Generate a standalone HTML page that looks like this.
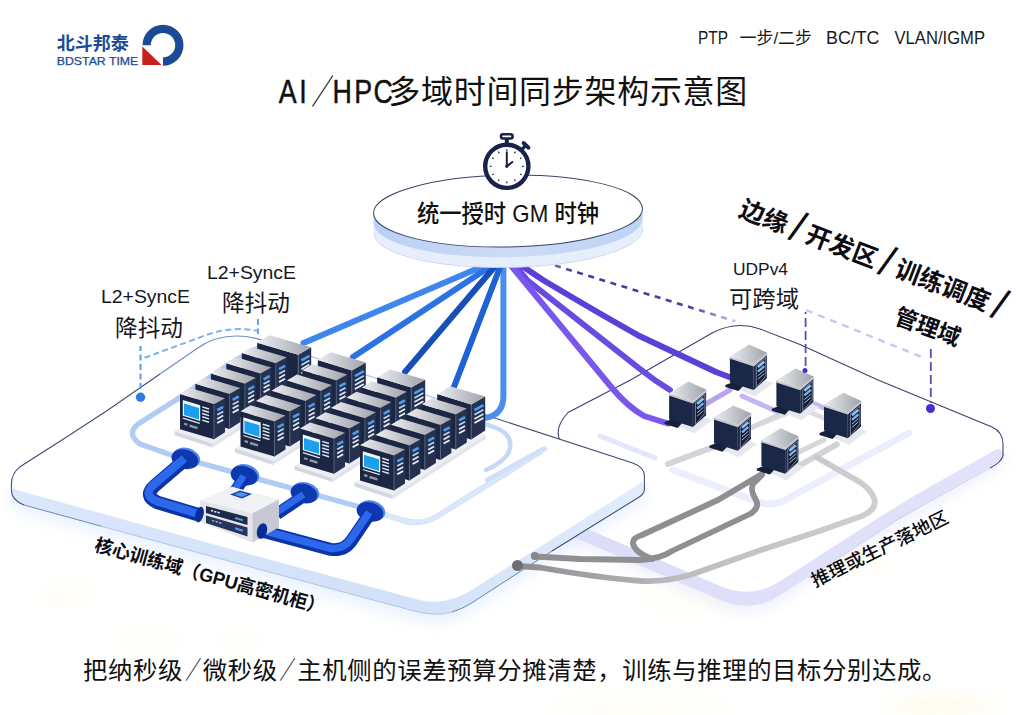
<!DOCTYPE html>
<html lang="zh"><head><meta charset="utf-8"><title>AI/HPC多域时间同步架构示意图</title>
<style>
html,body{margin:0;padding:0;background:#fff;}
body{width:1024px;height:715px;overflow:hidden;font-family:"Liberation Sans","Noto Sans CJK SC",sans-serif;}
svg{display:block}
text{font-family:"Liberation Sans","Noto Sans CJK SC",sans-serif;}
</style></head><body>
<svg width="1024" height="715" viewBox="0 0 1024 715">
<defs>
<linearGradient id="topg" x1="0" y1="0" x2="1" y2="0"><stop offset="0" stop-color="#eceef2"/><stop offset="1" stop-color="#9fa2aa"/></linearGradient>
<linearGradient id="plL" x1="0" y1="0" x2="1" y2="1"><stop offset="0" stop-color="#ffffff"/><stop offset="1" stop-color="#ffffff"/></linearGradient>
<linearGradient id="sideL" x1="0" y1="0" x2="1" y2="0"><stop offset="0" stop-color="#dbe7fb"/><stop offset="0.6" stop-color="#d2e1f8"/><stop offset="1" stop-color="#e2ecfb"/></linearGradient>
<linearGradient id="sideR" x1="0" y1="0" x2="1" y2="0"><stop offset="0" stop-color="#dcdcf8"/><stop offset="1" stop-color="#e2e3fa"/></linearGradient>
<linearGradient id="discSide" x1="0" y1="0" x2="1" y2="0"><stop offset="0" stop-color="#b9cff3"/><stop offset="0.5" stop-color="#cddcf7"/><stop offset="1" stop-color="#bdd2f4"/></linearGradient>
<linearGradient id="pipe" x1="0" y1="0" x2="0" y2="1"><stop offset="0" stop-color="#2f6bf0"/><stop offset="1" stop-color="#1437b8"/></linearGradient>
<filter id="blur8" x="-20%" y="-20%" width="140%" height="140%"><feGaussianBlur stdDeviation="8"/></filter>
<filter id="blur14" x="-30%" y="-30%" width="160%" height="160%"><feGaussianBlur stdDeviation="14"/></filter>
<filter id="blur3" x="-20%" y="-20%" width="140%" height="140%"><feGaussianBlur stdDeviation="2.5"/></filter>
</defs>
<rect width="1024" height="715" fill="#ffffff"/>

<g filter="url(#blur8)" opacity="0.42">
<ellipse cx="68" cy="594" rx="26" ry="12" fill="#fefae6"/>
<ellipse cx="150" cy="640" rx="34" ry="10" fill="#fefbea"/>
<ellipse cx="240" cy="643" rx="24" ry="8" fill="#fefbea"/>
<ellipse cx="640" cy="705" rx="90" ry="10" fill="#fefae4"/>
<ellipse cx="940" cy="706" rx="60" ry="10" fill="#fdf6d4"/>
<ellipse cx="690" cy="600" rx="50" ry="12" fill="#fefbe8"/>
<ellipse cx="840" cy="560" rx="50" ry="14" fill="#fefbe8"/>
</g>
<path d="M544.5,450.9 Q546.0,431.0 563.3,420.9 L714.8,332.1 Q739.0,318.0 764.5,329.5 L998.2,435.2 Q1011.0,441.0 998.8,447.9 L934.8,484.1 Q900.0,503.8 866.4,525.5 L780.5,581.1 Q752.0,599.6 720.8,586.2 L540.9,509.1 Q540.0,508.7 540.1,507.7 Z" fill="#dcdffa" filter="url(#blur8)" opacity="0.55" transform="translate(0,18)"/>
<path d="M544.5,464.9 Q546.0,445.0 563.3,434.9 L714.8,346.1 Q739.0,332.0 764.5,343.5 L998.2,449.2 Q1011.0,455.0 998.8,461.9 L934.8,498.1 Q900.0,517.8 866.4,539.5 L780.5,595.1 Q752.0,613.6 720.8,600.2 L540.9,523.1 Q540.0,522.7 540.1,521.7 Z" fill="url(#sideR)"/>
<path d="M544.5,450.9 Q546.0,431.0 563.3,420.9 L714.8,332.1 Q739.0,318.0 764.5,329.5 L998.2,435.2 Q1011.0,441.0 998.8,447.9 L934.8,484.1 Q900.0,503.8 866.4,525.5 L780.5,581.1 Q752.0,599.6 720.8,586.2 L540.9,509.1 Q540.0,508.7 540.1,507.7 Z" fill="#ffffff"/>
<path d="M562,444 Q552,430 568,412.5 L630.5,380 L712,333 Q736,320.5 760,329 L800,344.5 L878,380 L992,427 Q1003,432 1003,444 L1003,455 Q1002,462 990,468" fill="none" stroke="#36426e" stroke-width="1.05"/>
<path d="M990,468 L900,518 L808,578" fill="none" stroke="#b9b6ee" stroke-width="1" opacity="0.6"/>
<g fill="none" stroke-linecap="round" stroke-linejoin="round">
<path d="M600,436 L655,458" stroke="#e2e8fa" stroke-width="5"/>
<path d="M673,470 L755,501 Q771,507.5 786,499.5 L909,433" stroke="#ebeefc" stroke-width="7"/>
</g>
<path d="M11.4,484.0 Q11.4,474.0 20,466.7 L62,440.0 L108,410.0 L197,348.4 Q225,329.0 262,340.0 L494.6,418.0 L632,462.7 Q644.4,467.0 644.4,476.0 Q644.4,481.0 636,486.0 L470,591.0 Q442,608.0 412,598.0 L260,557.0 L101.6,513.6 L24,492.0 Q11.4,489.0 11.4,484.0 Z" fill="#d5e4fb" filter="url(#blur8)" opacity="0.55" transform="translate(0,20)"/>
<path d="M11.4,496.5 Q11.4,486.5 20,479.2 L62,452.5 L108,422.5 L197,360.9 Q225,341.5 262,352.5 L494.6,430.5 L632,475.7 Q644.4,480.0 644.4,489.0 Q644.4,494.0 636,499.0 L470,603.5 Q442,620.5 412,610.5 L260,569.5 L101.6,526.1 L24,504.5 Q11.4,501.5 11.4,496.5 Z" fill="url(#sideL)"/>
<path d="M11.4,484.0 Q11.4,474.0 20,466.7 L62,440.0 L108,410.0 L197,348.4 Q225,329.0 262,340.0 L494.6,418.0 L632,462.7 Q644.4,467.0 644.4,476.0 Q644.4,481.0 636,486.0 L470,591.0 Q442,608.0 412,598.0 L260,557.0 L101.6,513.6 L24,492.0 Q11.4,489.0 11.4,484.0 Z" fill="url(#plL)"/>
<path d="M262,340 L494.6,418" fill="none" stroke="#9fb6df" stroke-width="1"/>
<path d="M160,374 L197,348.4 Q225,329 262,340" fill="none" stroke="#6f8fc8" stroke-width="1.2"/>
<path d="M24,505 Q11.4,500 11.4,490 L11.4,484 Q11.4,474 20,466.7 L62,440 L108,410 L160,374 M470,409.4 L494.6,418 L632,462.7 Q644.4,467 644.4,476 L644.4,489 Q644.4,495 636,499 L552,551" fill="none" stroke="#3b4b78" stroke-width="1.05"/>
<path d="M24,505 L101.6,526.3" fill="none" stroke="#6f86b8" stroke-width="1"/>
<path d="M101.6,526.3 L260,569.5 L412,610.5 Q436,617 452,612" fill="none" stroke="#a9c0e8" stroke-width="1" opacity="0.9"/>
<path d="M452,612 Q462,609 470,604 L552,551" fill="none" stroke="#6f82ad" stroke-width="1"/>
<g fill="none" stroke-linecap="round" stroke-linejoin="round">
<path d="M262,346 L236,360 L176,400 L138,424 Q126,434 140,444 L171,455 L360,507 L405,521 Q422,525 436,517 L540,452" stroke="#b0cbf4" stroke-width="5.4"/>
<path d="M360,507 L405,521 Q422,525 436,517 L545,449" stroke="#dbe7fa" stroke-width="5"/>
<path d="M470,418 L496,428 Q512,434 510,448 Q508,460 486,470" stroke="#c3d8f6" stroke-width="4.5"/>
<path d="M543,449 L487,480" stroke="#cfe0f8" stroke-width="4.5"/>
</g>
<linearGradient id="g1" gradientUnits="userSpaceOnUse" x1="517" y1="0" x2="880" y2="0"><stop offset="0" stop-color="#8c8c90"/><stop offset="0.45" stop-color="#bdbdc1"/><stop offset="1" stop-color="#cfcfd3"/></linearGradient>
<g fill="none" stroke-linecap="round" stroke-linejoin="round">
<path d="M745,430 L800,408 L840,425" stroke="#dcdde2" stroke-width="5"/>
<path d="M798.7,466 L836.8,444.3" stroke="#d2d3d8" stroke-width="6"/>
<path d="M517,566 L540,567.5 Q600,578 641.6,581 Q665,582 690,575 L764,549 L815,532.4 L862,516 Q878,509 874,498 Q870,488 858,481 L817,457.5" stroke="url(#g1)" stroke-width="5.8"/>
<path d="M535,556.5 L580,559 L640,560 Q660,559 672,551 L750,514 Q760,508 756,500 Q750,490 753,484 L762,475" stroke="#8f8f93" stroke-width="5.8"/>
<path d="M652,559 Q636,553 633,544 Q632,538 642,535 L718,500 L762,474" stroke="#8f8f93" stroke-width="5.8"/>
</g>
<circle cx="517.5" cy="565.5" r="5.5" fill="#6d6e72"/><circle cx="534.8" cy="556" r="4" fill="#85868a"/>
<g fill="none" stroke-linecap="round" stroke-linejoin="round">
<path d="M503.4,262 L503.4,396 Q503.4,415 485,418 L470,420" stroke="#4a8ff0" stroke-width="6"/>
<path d="M488,264 L303.5,343" stroke="#3f86ec" stroke-width="6"/>
<path d="M494,264 L353,357" stroke="#2c72e2" stroke-width="6"/>
<path d="M497,264 L405,372" stroke="#164fb8" stroke-width="6"/>
<path d="M502,262 L453.3,388.7" stroke="#1e62d4" stroke-width="6"/>
<path d="M516,262 L543,280 Q600,314 640,336.3 L716,372 L732,378" stroke="#5b3fd6" stroke-width="6"/>
<path d="M512,262 L527,280 L640,369 Q655,381 670,390" stroke="#6a4be0" stroke-width="6"/>
<path d="M508,262 L612,388 Q628,407 644,416 L668,423.5" stroke="#7b56ec" stroke-width="6"/>
</g>
<polygon points="174.5,431.2 212.5,443.6 305.8,383.4 267.8,370.9" fill="#eceef3"/>
<polygon points="174.5,431.2 212.5,443.6 212.5,447.6 174.5,435.2" fill="#d4d7df"/>
<polygon points="212.5,443.6 305.8,383.4 305.8,387.4 212.5,447.6" fill="#e1e4eb"/>
<polygon points="298.2,354.8 311.2,347.2 311.2,382.2 298.2,390.8" fill="#25314e"/><line x1="301.4" y1="360.4" x2="309.4" y2="355.8" stroke="#4f9bee" stroke-width="2.6"/><line x1="301.4" y1="365.1" x2="309.4" y2="360.5" stroke="#b9d6f6" stroke-width="1.7"/><line x1="301.4" y1="369.2" x2="309.4" y2="364.6" stroke="#dfeafa" stroke-width="1.7"/><line x1="301.4" y1="373.3" x2="309.4" y2="368.7" stroke="#eef3fb" stroke-width="1.8"/><polygon points="257.2,342.8 298.2,354.8 298.2,390.8 257.2,379.1" fill="#1b2642"/><line x1="298.2" y1="355.2" x2="298.2" y2="390.8" stroke="#5a6682" stroke-width="0.9"/><polygon points="257.2,342.8 269.2,335.2 311.2,347.2 298.2,354.8" fill="url(#topg)"/>
<polygon points="275.8,363.3 286.8,357.3 286.8,391.3 275.8,398.3" fill="#25314e"/><line x1="279.0" y1="369.1" x2="285.0" y2="365.8" stroke="#4f9bee" stroke-width="2.6"/><line x1="279.0" y1="373.8" x2="285.0" y2="370.5" stroke="#b9d6f6" stroke-width="1.7"/><line x1="279.0" y1="377.9" x2="285.0" y2="374.6" stroke="#dfeafa" stroke-width="1.7"/><line x1="279.0" y1="382.0" x2="285.0" y2="378.7" stroke="#eef3fb" stroke-width="1.8"/><polygon points="241.8,353.0 275.8,363.3 275.8,398.3 241.8,388.3" fill="#1b2642"/><line x1="275.8" y1="363.8" x2="275.8" y2="398.3" stroke="#5a6682" stroke-width="0.9"/><polygon points="241.8,353.0 251.8,347.0 286.8,357.3 275.8,363.3" fill="url(#topg)"/>
<polygon points="260.4,373.6 271.4,367.6 271.4,401.6 260.4,408.6" fill="#25314e"/><line x1="263.6" y1="379.3" x2="269.6" y2="376.0" stroke="#4f9bee" stroke-width="2.6"/><line x1="263.6" y1="384.0" x2="269.6" y2="380.7" stroke="#b9d6f6" stroke-width="1.7"/><line x1="263.6" y1="388.1" x2="269.6" y2="384.8" stroke="#dfeafa" stroke-width="1.7"/><line x1="263.6" y1="392.2" x2="269.6" y2="388.9" stroke="#eef3fb" stroke-width="1.8"/><polygon points="226.3,363.2 260.4,373.6 260.4,408.6 226.3,398.6" fill="#1b2642"/><line x1="260.4" y1="374.1" x2="260.4" y2="408.6" stroke="#5a6682" stroke-width="0.9"/><polygon points="226.3,363.2 236.3,357.2 271.4,367.6 260.4,373.6" fill="url(#topg)"/>
<polygon points="244.9,383.8 255.9,377.8 255.9,411.8 244.9,418.8" fill="#25314e"/><line x1="248.1" y1="389.6" x2="254.1" y2="386.3" stroke="#4f9bee" stroke-width="2.6"/><line x1="248.1" y1="394.3" x2="254.1" y2="391.0" stroke="#b9d6f6" stroke-width="1.7"/><line x1="248.1" y1="398.4" x2="254.1" y2="395.1" stroke="#dfeafa" stroke-width="1.7"/><line x1="248.1" y1="402.5" x2="254.1" y2="399.2" stroke="#eef3fb" stroke-width="1.8"/><polygon points="210.9,373.5 244.9,383.8 244.9,418.8 210.9,408.8" fill="#1b2642"/><line x1="244.9" y1="384.3" x2="244.9" y2="418.8" stroke="#5a6682" stroke-width="0.9"/><polygon points="210.9,373.5 220.9,367.5 255.9,377.8 244.9,383.8" fill="url(#topg)"/>
<polygon points="229.4,394.1 240.4,388.1 240.4,422.1 229.4,429.1" fill="#25314e"/><line x1="232.6" y1="399.8" x2="238.6" y2="396.5" stroke="#4f9bee" stroke-width="2.6"/><line x1="232.6" y1="404.5" x2="238.6" y2="401.2" stroke="#b9d6f6" stroke-width="1.7"/><line x1="232.6" y1="408.6" x2="238.6" y2="405.3" stroke="#dfeafa" stroke-width="1.7"/><line x1="232.6" y1="412.7" x2="238.6" y2="409.4" stroke="#eef3fb" stroke-width="1.8"/><polygon points="195.4,383.8 229.4,394.1 229.4,429.1 195.4,419.1" fill="#1b2642"/><line x1="229.4" y1="394.6" x2="229.4" y2="429.1" stroke="#5a6682" stroke-width="0.9"/><polygon points="195.4,383.8 205.4,377.8 240.4,388.1 229.4,394.1" fill="url(#topg)"/>
<polygon points="214.0,404.3 225.0,398.3 225.0,432.3 214.0,439.3" fill="#25314e"/><line x1="217.2" y1="410.1" x2="223.2" y2="406.8" stroke="#4f9bee" stroke-width="2.6"/><line x1="217.2" y1="414.8" x2="223.2" y2="411.5" stroke="#b9d6f6" stroke-width="1.7"/><line x1="217.2" y1="418.9" x2="223.2" y2="415.6" stroke="#dfeafa" stroke-width="1.7"/><line x1="217.2" y1="423.0" x2="223.2" y2="419.7" stroke="#eef3fb" stroke-width="1.8"/><polygon points="180.0,394.0 214.0,404.3 214.0,439.3 180.0,429.3" fill="#1b2642"/><line x1="214.0" y1="404.8" x2="214.0" y2="439.3" stroke="#5a6682" stroke-width="0.9"/><polygon points="180.0,394.0 190.0,388.0 225.0,398.3 214.0,404.3" fill="url(#topg)"/><polygon points="182.8,400.0 200.2,405.3 200.2,421.1 182.8,415.8" fill="#f1f6fc"/><polygon points="184.0,403.4 199.0,408.0 199.0,419.6 184.0,415.0" fill="#1b9fee"/><line x1="202.2" y1="406.9" x2="209.0" y2="409.0" stroke="#dbe6f6" stroke-width="1.5"/><line x1="202.2" y1="410.2" x2="209.0" y2="412.3" stroke="#dbe6f6" stroke-width="1.5"/><line x1="202.2" y1="413.5" x2="209.0" y2="415.6" stroke="#dbe6f6" stroke-width="1.5"/><line x1="202.2" y1="416.8" x2="209.0" y2="418.9" stroke="#dbe6f6" stroke-width="1.5"/><line x1="202.2" y1="420.1" x2="209.0" y2="422.2" stroke="#dbe6f6" stroke-width="1.5"/><line x1="182.8" y1="418.2" x2="199.8" y2="423.4" stroke="#dfe7f4" stroke-width="1.3"/><line x1="184.0" y1="423.7" x2="187.5" y2="424.8" stroke="#8e98ae" stroke-width="2.2"/><line x1="189.5" y1="425.7" x2="197.5" y2="428.1" stroke="#8e98ae" stroke-width="2.4"/>
<polygon points="235.0,448.5 273.0,460.9 366.2,400.7 328.2,388.2" fill="#eceef3"/>
<polygon points="235.0,448.5 273.0,460.9 273.0,464.9 235.0,452.5" fill="#d4d7df"/>
<polygon points="273.0,460.9 366.2,400.7 366.2,404.7 273.0,464.9" fill="#e1e4eb"/>
<polygon points="351.8,370.4 365.8,362.6 365.8,396.6 351.8,405.4" fill="#25314e"/><line x1="354.9" y1="376.1" x2="363.9" y2="371.1" stroke="#4f9bee" stroke-width="2.6"/><line x1="354.9" y1="380.8" x2="363.9" y2="375.8" stroke="#b9d6f6" stroke-width="1.7"/><line x1="354.9" y1="384.9" x2="363.9" y2="379.9" stroke="#dfeafa" stroke-width="1.7"/><line x1="354.9" y1="389.0" x2="363.9" y2="384.0" stroke="#eef3fb" stroke-width="1.8"/><polygon points="317.8,360.1 351.8,370.4 351.8,405.4 317.8,395.4" fill="#1b2642"/><line x1="351.8" y1="370.9" x2="351.8" y2="405.4" stroke="#5a6682" stroke-width="0.9"/><polygon points="317.8,360.1 330.8,352.2 365.8,362.6 351.8,370.4" fill="url(#topg)"/>
<polygon points="336.3,380.6 347.3,374.6 347.3,408.6 336.3,415.6" fill="#25314e"/><line x1="339.5" y1="386.4" x2="345.5" y2="383.1" stroke="#4f9bee" stroke-width="2.6"/><line x1="339.5" y1="391.1" x2="345.5" y2="387.8" stroke="#b9d6f6" stroke-width="1.7"/><line x1="339.5" y1="395.2" x2="345.5" y2="391.9" stroke="#dfeafa" stroke-width="1.7"/><line x1="339.5" y1="399.3" x2="345.5" y2="396.0" stroke="#eef3fb" stroke-width="1.8"/><polygon points="302.3,370.3 336.3,380.6 336.3,415.6 302.3,405.6" fill="#1b2642"/><line x1="336.3" y1="381.1" x2="336.3" y2="415.6" stroke="#5a6682" stroke-width="0.9"/><polygon points="302.3,370.3 312.3,364.3 347.3,374.6 336.3,380.6" fill="url(#topg)"/>
<polygon points="320.9,390.9 331.9,384.9 331.9,418.9 320.9,425.9" fill="#25314e"/><line x1="324.1" y1="396.6" x2="330.1" y2="393.3" stroke="#4f9bee" stroke-width="2.6"/><line x1="324.1" y1="401.3" x2="330.1" y2="398.0" stroke="#b9d6f6" stroke-width="1.7"/><line x1="324.1" y1="405.4" x2="330.1" y2="402.1" stroke="#dfeafa" stroke-width="1.7"/><line x1="324.1" y1="409.5" x2="330.1" y2="406.2" stroke="#eef3fb" stroke-width="1.8"/><polygon points="286.9,380.6 320.9,390.9 320.9,425.9 286.9,415.9" fill="#1b2642"/><line x1="320.9" y1="391.4" x2="320.9" y2="425.9" stroke="#5a6682" stroke-width="0.9"/><polygon points="286.9,380.6 296.9,374.6 331.9,384.9 320.9,390.9" fill="url(#topg)"/>
<polygon points="305.4,401.1 316.4,395.1 316.4,429.1 305.4,436.1" fill="#25314e"/><line x1="308.6" y1="406.9" x2="314.6" y2="403.6" stroke="#4f9bee" stroke-width="2.6"/><line x1="308.6" y1="411.6" x2="314.6" y2="408.3" stroke="#b9d6f6" stroke-width="1.7"/><line x1="308.6" y1="415.7" x2="314.6" y2="412.4" stroke="#dfeafa" stroke-width="1.7"/><line x1="308.6" y1="419.8" x2="314.6" y2="416.5" stroke="#eef3fb" stroke-width="1.8"/><polygon points="271.4,390.8 305.4,401.1 305.4,436.1 271.4,426.1" fill="#1b2642"/><line x1="305.4" y1="401.6" x2="305.4" y2="436.1" stroke="#5a6682" stroke-width="0.9"/><polygon points="271.4,390.8 281.4,384.8 316.4,395.1 305.4,401.1" fill="url(#topg)"/>
<polygon points="289.9,411.4 300.9,405.4 300.9,439.4 289.9,446.4" fill="#25314e"/><line x1="293.1" y1="417.1" x2="299.1" y2="413.8" stroke="#4f9bee" stroke-width="2.6"/><line x1="293.1" y1="421.8" x2="299.1" y2="418.5" stroke="#b9d6f6" stroke-width="1.7"/><line x1="293.1" y1="425.9" x2="299.1" y2="422.6" stroke="#dfeafa" stroke-width="1.7"/><line x1="293.1" y1="430.0" x2="299.1" y2="426.7" stroke="#eef3fb" stroke-width="1.8"/><polygon points="255.9,401.1 289.9,411.4 289.9,446.4 255.9,436.4" fill="#1b2642"/><line x1="289.9" y1="411.9" x2="289.9" y2="446.4" stroke="#5a6682" stroke-width="0.9"/><polygon points="255.9,401.1 265.9,395.1 300.9,405.4 289.9,411.4" fill="url(#topg)"/>
<polygon points="274.5,421.6 285.5,415.6 285.5,449.6 274.5,456.6" fill="#25314e"/><line x1="277.7" y1="427.4" x2="283.7" y2="424.1" stroke="#4f9bee" stroke-width="2.6"/><line x1="277.7" y1="432.1" x2="283.7" y2="428.8" stroke="#b9d6f6" stroke-width="1.7"/><line x1="277.7" y1="436.2" x2="283.7" y2="432.9" stroke="#dfeafa" stroke-width="1.7"/><line x1="277.7" y1="440.3" x2="283.7" y2="437.0" stroke="#eef3fb" stroke-width="1.8"/><polygon points="240.5,411.3 274.5,421.6 274.5,456.6 240.5,446.6" fill="#1b2642"/><line x1="274.5" y1="422.1" x2="274.5" y2="456.6" stroke="#5a6682" stroke-width="0.9"/><polygon points="240.5,411.3 250.5,405.3 285.5,415.6 274.5,421.6" fill="url(#topg)"/><polygon points="243.3,417.3 260.7,422.6 260.7,438.4 243.3,433.1" fill="#f1f6fc"/><polygon points="244.5,420.7 259.5,425.3 259.5,436.9 244.5,432.3" fill="#1b9fee"/><line x1="262.7" y1="424.2" x2="269.5" y2="426.3" stroke="#dbe6f6" stroke-width="1.5"/><line x1="262.7" y1="427.5" x2="269.5" y2="429.6" stroke="#dbe6f6" stroke-width="1.5"/><line x1="262.7" y1="430.8" x2="269.5" y2="432.9" stroke="#dbe6f6" stroke-width="1.5"/><line x1="262.7" y1="434.1" x2="269.5" y2="436.2" stroke="#dbe6f6" stroke-width="1.5"/><line x1="262.7" y1="437.4" x2="269.5" y2="439.5" stroke="#dbe6f6" stroke-width="1.5"/><line x1="243.3" y1="435.5" x2="260.3" y2="440.7" stroke="#dfe7f4" stroke-width="1.3"/><line x1="244.5" y1="441.0" x2="248.0" y2="442.1" stroke="#8e98ae" stroke-width="2.2"/><line x1="250.0" y1="443.0" x2="258.0" y2="445.4" stroke="#8e98ae" stroke-width="2.4"/>
<polygon points="294.5,465.7 332.5,478.1 425.8,417.9 387.8,405.4" fill="#eceef3"/>
<polygon points="294.5,465.7 332.5,478.1 332.5,482.1 294.5,469.7" fill="#d4d7df"/>
<polygon points="332.5,478.1 425.8,417.9 425.8,421.9 332.5,482.1" fill="#e1e4eb"/>
<polygon points="411.2,387.6 425.2,379.8 425.2,413.8 411.2,422.6" fill="#25314e"/><line x1="414.4" y1="393.3" x2="423.4" y2="388.3" stroke="#4f9bee" stroke-width="2.6"/><line x1="414.4" y1="398.0" x2="423.4" y2="393.0" stroke="#b9d6f6" stroke-width="1.7"/><line x1="414.4" y1="402.1" x2="423.4" y2="397.1" stroke="#dfeafa" stroke-width="1.7"/><line x1="414.4" y1="406.2" x2="423.4" y2="401.2" stroke="#eef3fb" stroke-width="1.8"/><polygon points="377.2,377.2 411.2,387.6 411.2,422.6 377.2,412.6" fill="#1b2642"/><line x1="411.2" y1="388.1" x2="411.2" y2="422.6" stroke="#5a6682" stroke-width="0.9"/><polygon points="377.2,377.2 390.2,369.4 425.2,379.8 411.2,387.6" fill="url(#topg)"/>
<polygon points="395.8,397.8 406.8,391.8 406.8,425.8 395.8,432.8" fill="#25314e"/><line x1="399.0" y1="403.6" x2="405.0" y2="400.3" stroke="#4f9bee" stroke-width="2.6"/><line x1="399.0" y1="408.3" x2="405.0" y2="405.0" stroke="#b9d6f6" stroke-width="1.7"/><line x1="399.0" y1="412.4" x2="405.0" y2="409.1" stroke="#dfeafa" stroke-width="1.7"/><line x1="399.0" y1="416.5" x2="405.0" y2="413.2" stroke="#eef3fb" stroke-width="1.8"/><polygon points="361.8,387.5 395.8,397.8 395.8,432.8 361.8,422.8" fill="#1b2642"/><line x1="395.8" y1="398.3" x2="395.8" y2="432.8" stroke="#5a6682" stroke-width="0.9"/><polygon points="361.8,387.5 371.8,381.5 406.8,391.8 395.8,397.8" fill="url(#topg)"/>
<polygon points="380.4,408.1 391.4,402.1 391.4,436.1 380.4,443.1" fill="#25314e"/><line x1="383.6" y1="413.8" x2="389.6" y2="410.5" stroke="#4f9bee" stroke-width="2.6"/><line x1="383.6" y1="418.5" x2="389.6" y2="415.2" stroke="#b9d6f6" stroke-width="1.7"/><line x1="383.6" y1="422.6" x2="389.6" y2="419.3" stroke="#dfeafa" stroke-width="1.7"/><line x1="383.6" y1="426.7" x2="389.6" y2="423.4" stroke="#eef3fb" stroke-width="1.8"/><polygon points="346.4,397.8 380.4,408.1 380.4,443.1 346.4,433.1" fill="#1b2642"/><line x1="380.4" y1="408.6" x2="380.4" y2="443.1" stroke="#5a6682" stroke-width="0.9"/><polygon points="346.4,397.8 356.4,391.8 391.4,402.1 380.4,408.1" fill="url(#topg)"/>
<polygon points="364.9,418.3 375.9,412.3 375.9,446.3 364.9,453.3" fill="#25314e"/><line x1="368.1" y1="424.1" x2="374.1" y2="420.8" stroke="#4f9bee" stroke-width="2.6"/><line x1="368.1" y1="428.8" x2="374.1" y2="425.5" stroke="#b9d6f6" stroke-width="1.7"/><line x1="368.1" y1="432.9" x2="374.1" y2="429.6" stroke="#dfeafa" stroke-width="1.7"/><line x1="368.1" y1="437.0" x2="374.1" y2="433.7" stroke="#eef3fb" stroke-width="1.8"/><polygon points="330.9,408.0 364.9,418.3 364.9,453.3 330.9,443.3" fill="#1b2642"/><line x1="364.9" y1="418.8" x2="364.9" y2="453.3" stroke="#5a6682" stroke-width="0.9"/><polygon points="330.9,408.0 340.9,402.0 375.9,412.3 364.9,418.3" fill="url(#topg)"/>
<polygon points="349.4,428.6 360.4,422.6 360.4,456.6 349.4,463.6" fill="#25314e"/><line x1="352.6" y1="434.3" x2="358.6" y2="431.0" stroke="#4f9bee" stroke-width="2.6"/><line x1="352.6" y1="439.0" x2="358.6" y2="435.7" stroke="#b9d6f6" stroke-width="1.7"/><line x1="352.6" y1="443.1" x2="358.6" y2="439.8" stroke="#dfeafa" stroke-width="1.7"/><line x1="352.6" y1="447.2" x2="358.6" y2="443.9" stroke="#eef3fb" stroke-width="1.8"/><polygon points="315.4,418.2 349.4,428.6 349.4,463.6 315.4,453.6" fill="#1b2642"/><line x1="349.4" y1="429.1" x2="349.4" y2="463.6" stroke="#5a6682" stroke-width="0.9"/><polygon points="315.4,418.2 325.4,412.2 360.4,422.6 349.4,428.6" fill="url(#topg)"/>
<polygon points="334.0,438.8 345.0,432.8 345.0,466.8 334.0,473.8" fill="#25314e"/><line x1="337.2" y1="444.6" x2="343.2" y2="441.3" stroke="#4f9bee" stroke-width="2.6"/><line x1="337.2" y1="449.3" x2="343.2" y2="446.0" stroke="#b9d6f6" stroke-width="1.7"/><line x1="337.2" y1="453.4" x2="343.2" y2="450.1" stroke="#dfeafa" stroke-width="1.7"/><line x1="337.2" y1="457.5" x2="343.2" y2="454.2" stroke="#eef3fb" stroke-width="1.8"/><polygon points="300.0,428.5 334.0,438.8 334.0,473.8 300.0,463.8" fill="#1b2642"/><line x1="334.0" y1="439.3" x2="334.0" y2="473.8" stroke="#5a6682" stroke-width="0.9"/><polygon points="300.0,428.5 310.0,422.5 345.0,432.8 334.0,438.8" fill="url(#topg)"/><polygon points="302.8,434.5 320.2,439.8 320.2,455.6 302.8,450.3" fill="#f1f6fc"/><polygon points="304.0,437.9 319.0,442.5 319.0,454.1 304.0,449.5" fill="#1b9fee"/><line x1="322.2" y1="441.4" x2="329.0" y2="443.5" stroke="#dbe6f6" stroke-width="1.5"/><line x1="322.2" y1="444.7" x2="329.0" y2="446.8" stroke="#dbe6f6" stroke-width="1.5"/><line x1="322.2" y1="448.0" x2="329.0" y2="450.1" stroke="#dbe6f6" stroke-width="1.5"/><line x1="322.2" y1="451.3" x2="329.0" y2="453.4" stroke="#dbe6f6" stroke-width="1.5"/><line x1="322.2" y1="454.6" x2="329.0" y2="456.7" stroke="#dbe6f6" stroke-width="1.5"/><line x1="302.8" y1="452.7" x2="319.8" y2="457.9" stroke="#dfe7f4" stroke-width="1.3"/><line x1="304.0" y1="458.2" x2="307.5" y2="459.3" stroke="#8e98ae" stroke-width="2.2"/><line x1="309.5" y1="460.2" x2="317.5" y2="462.6" stroke="#8e98ae" stroke-width="2.4"/>
<polygon points="354.5,482.5 392.5,494.9 485.8,434.7 447.8,422.2" fill="#eceef3"/>
<polygon points="354.5,482.5 392.5,494.9 392.5,498.9 354.5,486.5" fill="#d4d7df"/>
<polygon points="392.5,494.9 485.8,434.7 485.8,438.7 392.5,498.9" fill="#e1e4eb"/>
<polygon points="471.2,404.4 485.2,396.6 485.2,430.6 471.2,439.4" fill="#25314e"/><line x1="474.4" y1="410.1" x2="483.4" y2="405.1" stroke="#4f9bee" stroke-width="2.6"/><line x1="474.4" y1="414.8" x2="483.4" y2="409.8" stroke="#b9d6f6" stroke-width="1.7"/><line x1="474.4" y1="418.9" x2="483.4" y2="413.9" stroke="#dfeafa" stroke-width="1.7"/><line x1="474.4" y1="423.0" x2="483.4" y2="418.0" stroke="#eef3fb" stroke-width="1.8"/><polygon points="437.2,394.1 471.2,404.4 471.2,439.4 437.2,429.4" fill="#1b2642"/><line x1="471.2" y1="404.9" x2="471.2" y2="439.4" stroke="#5a6682" stroke-width="0.9"/><polygon points="437.2,394.1 450.2,386.2 485.2,396.6 471.2,404.4" fill="url(#topg)"/>
<polygon points="455.8,414.6 466.8,408.6 466.8,442.6 455.8,449.6" fill="#25314e"/><line x1="459.0" y1="420.4" x2="465.0" y2="417.1" stroke="#4f9bee" stroke-width="2.6"/><line x1="459.0" y1="425.1" x2="465.0" y2="421.8" stroke="#b9d6f6" stroke-width="1.7"/><line x1="459.0" y1="429.2" x2="465.0" y2="425.9" stroke="#dfeafa" stroke-width="1.7"/><line x1="459.0" y1="433.3" x2="465.0" y2="430.0" stroke="#eef3fb" stroke-width="1.8"/><polygon points="421.8,404.3 455.8,414.6 455.8,449.6 421.8,439.6" fill="#1b2642"/><line x1="455.8" y1="415.1" x2="455.8" y2="449.6" stroke="#5a6682" stroke-width="0.9"/><polygon points="421.8,404.3 431.8,398.3 466.8,408.6 455.8,414.6" fill="url(#topg)"/>
<polygon points="440.4,424.9 451.4,418.9 451.4,452.9 440.4,459.9" fill="#25314e"/><line x1="443.6" y1="430.6" x2="449.6" y2="427.3" stroke="#4f9bee" stroke-width="2.6"/><line x1="443.6" y1="435.3" x2="449.6" y2="432.0" stroke="#b9d6f6" stroke-width="1.7"/><line x1="443.6" y1="439.4" x2="449.6" y2="436.1" stroke="#dfeafa" stroke-width="1.7"/><line x1="443.6" y1="443.5" x2="449.6" y2="440.2" stroke="#eef3fb" stroke-width="1.8"/><polygon points="406.4,414.6 440.4,424.9 440.4,459.9 406.4,449.9" fill="#1b2642"/><line x1="440.4" y1="425.4" x2="440.4" y2="459.9" stroke="#5a6682" stroke-width="0.9"/><polygon points="406.4,414.6 416.4,408.6 451.4,418.9 440.4,424.9" fill="url(#topg)"/>
<polygon points="424.9,435.1 435.9,429.1 435.9,463.1 424.9,470.1" fill="#25314e"/><line x1="428.1" y1="440.9" x2="434.1" y2="437.6" stroke="#4f9bee" stroke-width="2.6"/><line x1="428.1" y1="445.6" x2="434.1" y2="442.3" stroke="#b9d6f6" stroke-width="1.7"/><line x1="428.1" y1="449.7" x2="434.1" y2="446.4" stroke="#dfeafa" stroke-width="1.7"/><line x1="428.1" y1="453.8" x2="434.1" y2="450.5" stroke="#eef3fb" stroke-width="1.8"/><polygon points="390.9,424.8 424.9,435.1 424.9,470.1 390.9,460.1" fill="#1b2642"/><line x1="424.9" y1="435.6" x2="424.9" y2="470.1" stroke="#5a6682" stroke-width="0.9"/><polygon points="390.9,424.8 400.9,418.8 435.9,429.1 424.9,435.1" fill="url(#topg)"/>
<polygon points="409.4,445.4 420.4,439.4 420.4,473.4 409.4,480.4" fill="#25314e"/><line x1="412.6" y1="451.1" x2="418.6" y2="447.8" stroke="#4f9bee" stroke-width="2.6"/><line x1="412.6" y1="455.8" x2="418.6" y2="452.5" stroke="#b9d6f6" stroke-width="1.7"/><line x1="412.6" y1="459.9" x2="418.6" y2="456.6" stroke="#dfeafa" stroke-width="1.7"/><line x1="412.6" y1="464.0" x2="418.6" y2="460.7" stroke="#eef3fb" stroke-width="1.8"/><polygon points="375.4,435.1 409.4,445.4 409.4,480.4 375.4,470.4" fill="#1b2642"/><line x1="409.4" y1="445.9" x2="409.4" y2="480.4" stroke="#5a6682" stroke-width="0.9"/><polygon points="375.4,435.1 385.4,429.1 420.4,439.4 409.4,445.4" fill="url(#topg)"/>
<polygon points="394.0,455.6 405.0,449.6 405.0,483.6 394.0,490.6" fill="#25314e"/><line x1="397.2" y1="461.4" x2="403.2" y2="458.1" stroke="#4f9bee" stroke-width="2.6"/><line x1="397.2" y1="466.1" x2="403.2" y2="462.8" stroke="#b9d6f6" stroke-width="1.7"/><line x1="397.2" y1="470.2" x2="403.2" y2="466.9" stroke="#dfeafa" stroke-width="1.7"/><line x1="397.2" y1="474.3" x2="403.2" y2="471.0" stroke="#eef3fb" stroke-width="1.8"/><polygon points="360.0,445.3 394.0,455.6 394.0,490.6 360.0,480.6" fill="#1b2642"/><line x1="394.0" y1="456.1" x2="394.0" y2="490.6" stroke="#5a6682" stroke-width="0.9"/><polygon points="360.0,445.3 370.0,439.3 405.0,449.6 394.0,455.6" fill="url(#topg)"/><polygon points="362.8,451.3 380.2,456.6 380.2,472.4 362.8,467.1" fill="#f1f6fc"/><polygon points="364.0,454.7 379.0,459.3 379.0,470.9 364.0,466.3" fill="#1b9fee"/><line x1="382.2" y1="458.2" x2="389.0" y2="460.3" stroke="#dbe6f6" stroke-width="1.5"/><line x1="382.2" y1="461.5" x2="389.0" y2="463.6" stroke="#dbe6f6" stroke-width="1.5"/><line x1="382.2" y1="464.8" x2="389.0" y2="466.9" stroke="#dbe6f6" stroke-width="1.5"/><line x1="382.2" y1="468.1" x2="389.0" y2="470.2" stroke="#dbe6f6" stroke-width="1.5"/><line x1="382.2" y1="471.4" x2="389.0" y2="473.5" stroke="#dbe6f6" stroke-width="1.5"/><line x1="362.8" y1="469.5" x2="379.8" y2="474.7" stroke="#dfe7f4" stroke-width="1.3"/><line x1="364.0" y1="475.0" x2="367.5" y2="476.1" stroke="#8e98ae" stroke-width="2.2"/><line x1="369.5" y1="477.0" x2="377.5" y2="479.4" stroke="#8e98ae" stroke-width="2.4"/>
<ellipse cx="186.1" cy="457.7" rx="14" ry="10" fill="#4f88ea" transform="rotate(16 185.3 459.0)"/><ellipse cx="184.9" cy="459.3" rx="13.6" ry="9.6" fill="#0f38b0" transform="rotate(16 185.3 459.0)"/>
<ellipse cx="245.3" cy="474.2" rx="14" ry="10" fill="#4f88ea" transform="rotate(16 244.5 475.5)"/><ellipse cx="244.1" cy="475.8" rx="13.6" ry="9.6" fill="#0f38b0" transform="rotate(16 244.5 475.5)"/>
<ellipse cx="305.2" cy="492.1" rx="14" ry="10" fill="#4f88ea" transform="rotate(16 304.4 493.4)"/><ellipse cx="304.0" cy="493.7" rx="13.6" ry="9.6" fill="#0f38b0" transform="rotate(16 304.4 493.4)"/>
<ellipse cx="371.2" cy="510.4" rx="14" ry="10" fill="#4f88ea" transform="rotate(16 370.4 511.7)"/><ellipse cx="370.0" cy="512.0" rx="13.6" ry="9.6" fill="#0f38b0" transform="rotate(16 370.4 511.7)"/>
<path d="M185.3,459.5 L155,485.5 Q143,496 157.6,502.5 L201,515.5" fill="none" stroke="#0c34aa" stroke-width="13.5" stroke-linecap="butt" stroke-linejoin="round"/><path d="M185.3,459.5 L155,485.5 Q143,496 157.6,502.5 L201,515.5" fill="none" stroke="#2d68ea" stroke-width="8.3" stroke-linecap="butt" stroke-linejoin="round" transform="translate(-0.9,-1.2)"/>
<path d="M244.5,477 L234,493" fill="none" stroke="#0c34aa" stroke-width="12.0" stroke-linecap="butt" stroke-linejoin="round"/><path d="M244.5,477 L234,493" fill="none" stroke="#2d68ea" stroke-width="6.8" stroke-linecap="butt" stroke-linejoin="round" transform="translate(-0.9,-1.2)"/>
<path d="M304.4,495.6 L277,514" fill="none" stroke="#0c34aa" stroke-width="12.0" stroke-linecap="butt" stroke-linejoin="round"/><path d="M304.4,495.6 L277,514" fill="none" stroke="#2d68ea" stroke-width="6.8" stroke-linecap="butt" stroke-linejoin="round" transform="translate(-0.9,-1.2)"/>
<path d="M370,513.5 L352,540 Q345,551 331,549.5 L262,531" fill="none" stroke="#0c34aa" stroke-width="12.8" stroke-linecap="butt" stroke-linejoin="round"/><path d="M370,513.5 L352,540 Q345,551 331,549.5 L262,531" fill="none" stroke="#2d68ea" stroke-width="7.6" stroke-linecap="butt" stroke-linejoin="round" transform="translate(-0.9,-1.2)"/>
<polygon points="200.3,500.6 232,486.7 279,499.3 252.4,513.3" fill="#f1f2f6"/>
<polygon points="200.3,500.6 252.4,513.3 252.4,542.5 200.3,522" fill="#e3e5eb"/>
<polygon points="252.4,513.3 279,499.3 279,527.3 252.4,542.5" fill="#c6c9d3"/>
<polygon points="230,494.5 240,490.5 252,494 242,498.5" fill="#1c3f9e"/><polygon points="234,494.5 240,492 248,494.3 242,497" fill="#4f94ee"/>
<polygon points="206,506 247.5,517 247.5,525 206,513" fill="#1d2946"/>
<polygon points="206,515.5 247.5,527.5 247.5,536.5 206,523" fill="#26355a"/>
<line x1="211" y1="510.5" x2="220" y2="513" stroke="#e6ecf7" stroke-width="1.6" stroke-dasharray="2.2 1.2"/>
<line x1="235" y1="518" x2="243" y2="520.2" stroke="#4f94ee" stroke-width="2.2"/>
<line x1="212" y1="520.5" x2="222" y2="523.5" stroke="#8fa4c8" stroke-width="1.6" stroke-dasharray="2.5 1.2"/>
<line x1="235" y1="528.3" x2="243" y2="530.8" stroke="#4f94ee" stroke-width="2.2"/>
<ellipse cx="262" cy="531" rx="5" ry="8" fill="#0b2c98" transform="rotate(14 262 531)"/>
<ellipse cx="199.5" cy="514.5" rx="4" ry="8" fill="#0b2c98" transform="rotate(14 199.5 514.5)"/>
<g fill="none" stroke-linecap="round" stroke-linejoin="round">
<path d="M704,405 L730,390" stroke="#b6a4ee" stroke-width="5"/>
<path d="M742,396 L778,412" stroke="#c3b6f2" stroke-width="5"/>
<path d="M815,404 L826,409" stroke="#c3b6f2" stroke-width="5"/>
<path d="M668,464 L716,446" stroke="#d3d4d9" stroke-width="6"/>
<path d="M751,428 L776,416" stroke="#d6d7dc" stroke-width="5"/>
<path d="M799,452 L824,440" stroke="#d6d7dc" stroke-width="5"/>
</g>
<polygon points="733.9,387.4 754.7,396.5 772.9,383.2 755.1,376.1" fill="#e7e8ee"/><polygon points="725.4,384.9 735.9,380.9 744.9,383.9 738.4,390.9 725.4,386.9" fill="#15203b"/><polygon points="753.7,365.8 766.9,354.5 766.9,378.2 753.7,390.0" fill="#202b47"/><polygon points="756.3,365.6 765.7,357.7 765.7,375.7 756.3,387.5" fill="#141d36" stroke="#9aa4bb" stroke-width="0.7"/><line x1="757.9" y1="367.0" x2="764.3" y2="361.5" stroke="#8fc2f2" stroke-width="2.6"/><line x1="757.9" y1="371.6" x2="764.3" y2="366.1" stroke="#7fb2ea" stroke-width="2.4"/><line x1="757.9" y1="375.8" x2="764.3" y2="370.3" stroke="#c8d3e8" stroke-width="0.9"/><line x1="757.9" y1="379.2" x2="764.3" y2="373.7" stroke="#c8d3e8" stroke-width="0.9"/><polygon points="729.9,358.2 753.7,365.8 753.7,390.0 729.9,382.4" fill="#1b2746"/><polygon points="729.5,356.4 753.7,364.0 767.3,352.7 767.3,354.9 753.7,366.4 729.5,358.6" fill="#c4c6cc"/><polygon points="729.5,356.4 749.2,344.6 767.3,352.7 753.7,364.0" fill="url(#topg)"/>
<polygon points="780.4,411.2 801.2,420.3 819.4,407.0 801.6,399.9" fill="#e7e8ee"/><polygon points="771.9,408.7 782.4,404.7 791.4,407.7 784.9,414.7 771.9,410.7" fill="#15203b"/><polygon points="800.2,389.6 813.4,378.3 813.4,402.0 800.2,413.8" fill="#202b47"/><polygon points="802.8,389.4 812.2,381.5 812.2,399.5 802.8,411.3" fill="#141d36" stroke="#9aa4bb" stroke-width="0.7"/><line x1="804.4" y1="390.8" x2="810.8" y2="385.3" stroke="#8fc2f2" stroke-width="2.6"/><line x1="804.4" y1="395.4" x2="810.8" y2="389.9" stroke="#7fb2ea" stroke-width="2.4"/><line x1="804.4" y1="399.6" x2="810.8" y2="394.1" stroke="#c8d3e8" stroke-width="0.9"/><line x1="804.4" y1="403.0" x2="810.8" y2="397.5" stroke="#c8d3e8" stroke-width="0.9"/><polygon points="776.4,382.0 800.2,389.6 800.2,413.8 776.4,406.2" fill="#1b2746"/><polygon points="776.0,380.2 800.2,387.8 813.8,376.5 813.8,378.7 800.2,390.2 776.0,382.4" fill="#c4c6cc"/><polygon points="776.0,380.2 795.7,368.4 813.8,376.5 800.2,387.8" fill="url(#topg)"/>
<polygon points="673.1,424.4 693.9,433.5 712.1,420.2 694.3,413.1" fill="#e7e8ee"/><polygon points="664.6,421.9 675.1,417.9 684.1,420.9 677.6,427.9 664.6,423.9" fill="#15203b"/><polygon points="692.9,402.8 706.1,391.5 706.1,415.2 692.9,427.0" fill="#202b47"/><polygon points="695.5,402.6 704.9,394.7 704.9,412.7 695.5,424.5" fill="#141d36" stroke="#9aa4bb" stroke-width="0.7"/><line x1="697.1" y1="404.0" x2="703.5" y2="398.5" stroke="#8fc2f2" stroke-width="2.6"/><line x1="697.1" y1="408.6" x2="703.5" y2="403.1" stroke="#7fb2ea" stroke-width="2.4"/><line x1="697.1" y1="412.8" x2="703.5" y2="407.3" stroke="#c8d3e8" stroke-width="0.9"/><line x1="697.1" y1="416.2" x2="703.5" y2="410.7" stroke="#c8d3e8" stroke-width="0.9"/><polygon points="669.1,395.2 692.9,402.8 692.9,427.0 669.1,419.4" fill="#1b2746"/><polygon points="668.7,393.4 692.9,401.0 706.5,389.7 706.5,391.9 692.9,403.4 668.7,395.6" fill="#c4c6cc"/><polygon points="668.7,393.4 688.4,381.6 706.5,389.7 692.9,401.0" fill="url(#topg)"/>
<polygon points="828.0,435.6 848.8,444.7 867.0,431.4 849.2,424.3" fill="#e7e8ee"/><polygon points="819.5,433.1 830.0,429.1 839.0,432.1 832.5,439.1 819.5,435.1" fill="#15203b"/><polygon points="847.8,414.0 861.0,402.7 861.0,426.4 847.8,438.2" fill="#202b47"/><polygon points="850.4,413.8 859.8,405.9 859.8,423.9 850.4,435.7" fill="#141d36" stroke="#9aa4bb" stroke-width="0.7"/><line x1="852.0" y1="415.2" x2="858.4" y2="409.7" stroke="#8fc2f2" stroke-width="2.6"/><line x1="852.0" y1="419.8" x2="858.4" y2="414.3" stroke="#7fb2ea" stroke-width="2.4"/><line x1="852.0" y1="424.0" x2="858.4" y2="418.5" stroke="#c8d3e8" stroke-width="0.9"/><line x1="852.0" y1="427.4" x2="858.4" y2="421.9" stroke="#c8d3e8" stroke-width="0.9"/><polygon points="824.0,406.4 847.8,414.0 847.8,438.2 824.0,430.6" fill="#1b2746"/><polygon points="823.6,404.6 847.8,412.2 861.4,400.9 861.4,403.1 847.8,414.6 823.6,406.8" fill="#c4c6cc"/><polygon points="823.6,404.6 843.3,392.8 861.4,400.9 847.8,412.2" fill="url(#topg)"/>
<polygon points="718.0,448.2 738.8,457.3 757.0,444.0 739.2,436.9" fill="#e7e8ee"/><polygon points="709.5,445.7 720.0,441.7 729.0,444.7 722.5,451.7 709.5,447.7" fill="#15203b"/><polygon points="737.8,426.6 751.0,415.3 751.0,439.0 737.8,450.8" fill="#202b47"/><polygon points="740.4,426.4 749.8,418.5 749.8,436.5 740.4,448.3" fill="#141d36" stroke="#9aa4bb" stroke-width="0.7"/><line x1="742.0" y1="427.8" x2="748.4" y2="422.3" stroke="#8fc2f2" stroke-width="2.6"/><line x1="742.0" y1="432.4" x2="748.4" y2="426.9" stroke="#7fb2ea" stroke-width="2.4"/><line x1="742.0" y1="436.6" x2="748.4" y2="431.1" stroke="#c8d3e8" stroke-width="0.9"/><line x1="742.0" y1="440.0" x2="748.4" y2="434.5" stroke="#c8d3e8" stroke-width="0.9"/><polygon points="714.0,419.0 737.8,426.6 737.8,450.8 714.0,443.2" fill="#1b2746"/><polygon points="713.6,417.2 737.8,424.8 751.4,413.5 751.4,415.7 737.8,427.2 713.6,419.4" fill="#c4c6cc"/><polygon points="713.6,417.2 733.3,405.4 751.4,413.5 737.8,424.8" fill="url(#topg)"/>
<polygon points="765.4,471.1 786.2,480.2 804.4,466.9 786.6,459.8" fill="#e7e8ee"/><polygon points="756.9,468.6 767.4,464.6 776.4,467.6 769.9,474.6 756.9,470.6" fill="#15203b"/><polygon points="785.2,449.5 798.4,438.2 798.4,461.9 785.2,473.7" fill="#202b47"/><polygon points="787.8,449.3 797.2,441.4 797.2,459.4 787.8,471.2" fill="#141d36" stroke="#9aa4bb" stroke-width="0.7"/><line x1="789.4" y1="450.7" x2="795.8" y2="445.2" stroke="#8fc2f2" stroke-width="2.6"/><line x1="789.4" y1="455.3" x2="795.8" y2="449.8" stroke="#7fb2ea" stroke-width="2.4"/><line x1="789.4" y1="459.5" x2="795.8" y2="454.0" stroke="#c8d3e8" stroke-width="0.9"/><line x1="789.4" y1="462.9" x2="795.8" y2="457.4" stroke="#c8d3e8" stroke-width="0.9"/><polygon points="761.4,441.9 785.2,449.5 785.2,473.7 761.4,466.1" fill="#1b2746"/><polygon points="761.0,440.1 785.2,447.7 798.8,436.4 798.8,438.6 785.2,450.1 761.0,442.3" fill="#c4c6cc"/><polygon points="761.0,440.1 780.7,428.3 798.8,436.4 785.2,447.7" fill="url(#topg)"/>
<g fill="none">
<path d="M140.5,389 L140.5,346" stroke="#5b9be8" stroke-width="2" stroke-dasharray="6 3.5"/>
<path d="M144.5,357.8 L205,335.5 Q232,325.5 258,331" stroke="#7ab2ee" stroke-width="2" stroke-dasharray="6 3.5"/>
<path d="M258,319 L258,334" stroke="#6aa3ea" stroke-width="2" stroke-dasharray="6 3.5"/>
<circle cx="140.5" cy="397.2" r="4.7" fill="#2f7be6"/>
<linearGradient id="dg" gradientUnits="userSpaceOnUse" x1="555" y1="0" x2="736" y2="0"><stop offset="0" stop-color="#6a68c0"/><stop offset="0.12" stop-color="#3c3a9a"/><stop offset="0.75" stop-color="#4542a4"/><stop offset="1" stop-color="#c9cbf2"/></linearGradient>
<path d="M555,265.5 L735.5,321.3" stroke="url(#dg)" stroke-width="2.6" stroke-dasharray="6 5.6"/>
<path d="M805.6,366 L805.6,312" stroke="#5350b0" stroke-width="1.8" stroke-dasharray="9 4"/>
<path d="M806,310 L924,358" stroke="#c3c7f3" stroke-width="2.4" stroke-dasharray="7 6"/>
<path d="M930.8,349 L930.8,403" stroke="#5350b0" stroke-width="1.8" stroke-dasharray="9 4"/>
<circle cx="930.5" cy="408.5" r="4.5" fill="#4a2fd0"/>
<circle cx="805" cy="370.5" r="2.5" fill="#4a2fd0"/>
</g>
<g transform="rotate(-1 508 211)">
<path d="M373.5,211 L373.5,231 A134.5,36.5 0 0 0 642.5,231 L642.5,211 Z" fill="#e6eefb"/>
<path d="M373.5,211 L373.5,221 A134.5,36.2 0 0 0 642.5,221 L642.5,211 Z" fill="url(#discSide)"/>
<path d="M373.5,231 A134.5,36.5 0 0 0 642.5,231" fill="none" stroke="#c5d5f0" stroke-width="0.8"/>
<ellipse cx="508" cy="211" rx="134.5" ry="36" fill="#ffffff" stroke="#3a4566" stroke-width="1"/>
</g>
<g fill="none" stroke="#18224a">
<circle cx="506.8" cy="166.3" r="21.6" stroke-width="4.4" fill="#ffffff"/>
<rect x="501.0" y="134.3" width="11.6" height="4.2" rx="2" stroke-width="2.6"/>
<line x1="506.8" y1="138.5" x2="506.8" y2="143.5" stroke-width="4"/>
<line x1="521.5" y1="150" x2="525" y2="146.2" stroke-width="3.2"/>
<line x1="523.6" y1="143" x2="528.4" y2="147.6" stroke-width="4" stroke-linecap="round"/>
<path d="M506.8,151.5 L506.8,166.3 L513.0,161.5" stroke-width="2" stroke-linejoin="round"/>
<circle cx="506.8" cy="166.3" r="1.6" fill="#18224a" stroke="none"/>
<line x1="506.8" y1="151.1" x2="506.8" y2="149.3" stroke-width="1.2"/>
<line x1="514.4" y1="153.1" x2="515.3" y2="151.6" stroke-width="1.2"/>
<line x1="520.0" y1="158.7" x2="521.5" y2="157.8" stroke-width="1.2"/>
<line x1="522.0" y1="166.3" x2="523.8" y2="166.3" stroke-width="1.2"/>
<line x1="520.0" y1="173.9" x2="521.5" y2="174.8" stroke-width="1.2"/>
<line x1="514.4" y1="179.5" x2="515.3" y2="181.0" stroke-width="1.2"/>
<line x1="506.8" y1="181.5" x2="506.8" y2="183.3" stroke-width="1.2"/>
<line x1="499.2" y1="179.5" x2="498.3" y2="181.0" stroke-width="1.2"/>
<line x1="493.6" y1="173.9" x2="492.1" y2="174.8" stroke-width="1.2"/>
<line x1="491.6" y1="166.3" x2="489.8" y2="166.3" stroke-width="1.2"/>
<line x1="493.6" y1="158.7" x2="492.1" y2="157.8" stroke-width="1.2"/>
<line x1="499.2" y1="153.1" x2="498.3" y2="151.6" stroke-width="1.2"/>
</g>
<g>
<path d="M142.5,45.2 A20.5,20.5 0 1 1 163,65.7 L163,57.4 A12.2,12.2 0 1 0 150.8,45.2 Z" fill="#1b4b96"/>
<polygon points="142.3,46.6 142.3,64.9 161.6,64.9" fill="#c8201e"/>
<text x="56.8" y="50" font-size="18" font-weight="700" fill="#1b4b96" textLength="72" lengthAdjust="spacingAndGlyphs">北斗邦泰</text>
<text x="56.8" y="64.6" font-size="10.3" fill="#1b4b96" stroke="#1b4b96" stroke-width="0.25" textLength="81.5" lengthAdjust="spacingAndGlyphs">BDSTAR TIME</text>
</g>
<text x="698.0" y="44.0" font-size="17.5" font-weight="400" fill="#1a1a1a" text-anchor="start" textLength="30.0" lengthAdjust="spacingAndGlyphs" >PTP</text>
<text x="739.5" y="44.0" font-size="17.0" font-weight="400" fill="#1a1a1a" text-anchor="start" textLength="72.5" lengthAdjust="spacingAndGlyphs" >一步/二步</text>
<text x="826.0" y="44.0" font-size="17.5" font-weight="400" fill="#1a1a1a" text-anchor="start" textLength="53.5" lengthAdjust="spacingAndGlyphs" >BC/TC</text>
<text x="894.5" y="44.0" font-size="17.5" font-weight="400" fill="#1a1a1a" text-anchor="start" textLength="90.5" lengthAdjust="spacingAndGlyphs" >VLAN/IGMP</text>
<g transform="scale(0.8,1)"><text y="102.8" font-size="33.5" fill="#111" stroke="#111" stroke-width="0.5"><tspan x="348.6">A</tspan><tspan x="374.1">I</tspan><tspan x="415.5">H</tspan><tspan x="442.8">P</tspan><tspan x="467">C</tspan></text></g>
<text transform="translate(322.7,102) scale(0.71,1.08)" x="-16" y="2.2" font-size="32" font-weight="300" fill="#111">／</text>
<text x="388.3" y="102.5" font-size="32" font-weight="400" fill="#111" letter-spacing="0.7">多域时间同步架构示意图</text>
<text x="417.0" y="222.0" font-size="24.0" font-weight="500" fill="#111" text-anchor="start" textLength="182.0" lengthAdjust="spacingAndGlyphs" >统一授时 GM 时钟</text>
<text x="101.0" y="303.0" font-size="18.0" font-weight="400" fill="#16161e" text-anchor="start" textLength="89.0" lengthAdjust="spacingAndGlyphs" >L2+SyncE</text>
<text x="115.0" y="335.5" font-size="23.0" font-weight="400" fill="#16161e" text-anchor="start" textLength="68.0" lengthAdjust="spacingAndGlyphs" >降抖动</text>
<text x="207.0" y="279.0" font-size="18.0" font-weight="400" fill="#16161e" text-anchor="start" textLength="89.0" lengthAdjust="spacingAndGlyphs" >L2+SyncE</text>
<text x="222.0" y="311.0" font-size="23.0" font-weight="400" fill="#16161e" text-anchor="start" textLength="68.0" lengthAdjust="spacingAndGlyphs" >降抖动</text>
<text x="733.0" y="275.0" font-size="17.0" font-weight="400" fill="#16161e" text-anchor="start" textLength="55.0" lengthAdjust="spacingAndGlyphs" >UDPv4</text>
<text x="729.0" y="307.0" font-size="23.0" font-weight="400" fill="#16161e" text-anchor="start" textLength="70.0" lengthAdjust="spacingAndGlyphs" >可跨域</text>
<g transform="translate(737.5,216) rotate(21)">
<text x="0.0" y="0" font-size="24.85" font-weight="700" fill="#0c0c12">边缘</text>
<text x="71.0" y="0" font-size="24.85" font-weight="700" fill="#0c0c12">开发区</text>
<text x="166.8" y="0" font-size="24.85" font-weight="700" fill="#0c0c12">训练调度</text>
<text transform="translate(60.4,3.5) scale(1.75,1.8)" text-anchor="middle" font-size="24" font-weight="400" fill="#0c0c12">/</text>
<text transform="translate(156.2,3.5) scale(1.75,1.8)" text-anchor="middle" font-size="24" font-weight="400" fill="#0c0c12">/</text>
<text transform="translate(276.9,3.5) scale(1.75,1.8)" text-anchor="middle" font-size="24" font-weight="400" fill="#0c0c12">/</text>
</g>
<g transform="translate(893,323) rotate(20)">
<text x="0.0" y="0.0" font-size="23.0" font-weight="700" fill="#0c0c12" text-anchor="start" textLength="68.0" lengthAdjust="spacingAndGlyphs" >管理域</text>
</g>
<g transform="translate(93.5,550.5) rotate(15.5)">
<text x="0.0" y="0.0" font-size="18.5" font-weight="700" fill="#0c0c12" text-anchor="start" textLength="238.0" lengthAdjust="spacingAndGlyphs" >核心训练域（GPU高密机柜）</text>
</g>
<g transform="translate(815,587.5) rotate(-26)">
<text x="0.0" y="0.0" font-size="18.0" font-weight="500" fill="#0c0c12" text-anchor="start" textLength="150.0" lengthAdjust="spacingAndGlyphs" >推理或生产落地区</text>
</g>
<text y="678.5" font-size="24.4" fill="#111" letter-spacing="0.6"><tspan x="83">把纳秒级</tspan><tspan x="202.7">微秒级</tspan><tspan x="297.3">主机侧的误差预算分摊清楚，训练与推理的目标分别达成。</tspan></text>
<text transform="translate(193.4,678.5) scale(0.66,1.02)" text-anchor="middle" font-size="24.4" fill="#111">／</text>
<text transform="translate(287.6,678.5) scale(0.66,1.02)" text-anchor="middle" font-size="24.4" fill="#111">／</text>
</svg></body></html>
